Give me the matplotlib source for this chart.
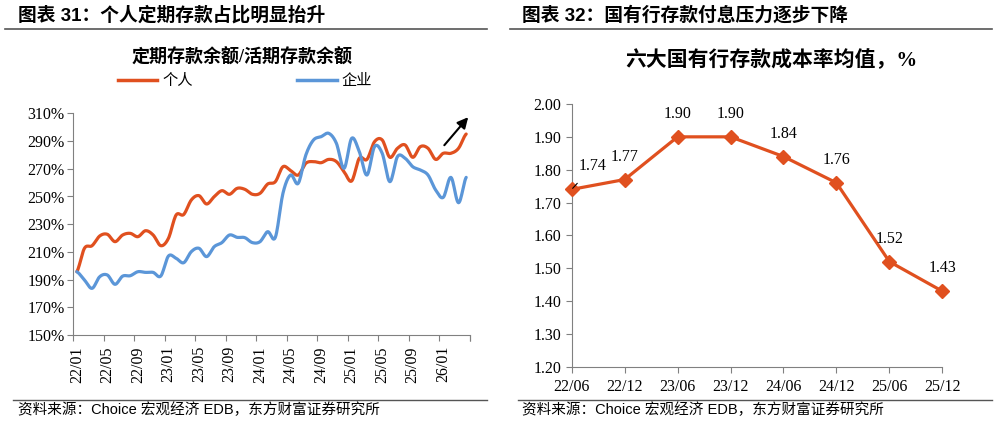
import numpy as np
import matplotlib
matplotlib.use("Agg")
import matplotlib.pyplot as plt
from matplotlib.lines import Line2D

# ---- data: left chart (monthly, 22/01 .. 26/04) ----
years = [22, 23, 24, 25, 26]
months = ["%d/%02d" % (y, m) for y in years for m in range(1, 13)][:52]
personal = [195.7, 212.6, 214.5, 221.5, 222.7, 217.4, 222.2, 223.4, 221.0, 225.3,
            222.2, 214.5, 219.8, 236.6, 237.0, 247.5, 250.6, 244.6, 249.9, 254.2,
            251.6, 255.9, 255.2, 251.6, 252.3, 259.0, 260.7, 271.5, 268.7, 265.5,
            274.0, 275.2, 274.4, 276.8, 275.2, 268.0, 261.2, 277.6, 276.8, 289.6,
            290.8, 278.3, 284.8, 287.2, 278.3, 286.0, 284.8, 276.8, 281.2, 281.2,
            284.8, 295.1]
corporate = [195.7, 189.7, 183.7, 192.1, 193.3, 186.6, 192.5, 192.8, 195.7, 195.2,
             195.2, 192.6, 207.0, 205.4, 202.2, 210.2, 212.6, 206.6, 213.8, 216.7,
             222.2, 220.5, 220.3, 216.7, 217.4, 224.6, 220.5, 252.3, 265.5, 259.5,
             280.0, 290.8, 293.2, 295.6, 288.4, 270.3, 292.0, 282.4, 265.5, 286.0,
             281.2, 260.7, 278.8, 277.6, 271.5, 269.1, 265.5, 254.7, 249.4, 263.8,
             245.5, 263.8]
left_yticks = [150, 170, 190, 210, 230, 250, 270, 290, 310]

# ---- data: right chart ----
periods = ["22/06", "22/12", "23/06", "23/12", "24/06", "24/12", "25/06", "25/12"]
cost_rate = [1.74, 1.77, 1.90, 1.90, 1.84, 1.76, 1.52, 1.43]
right_yticks = [1.20, 1.30, 1.40, 1.50, 1.60, 1.70, 1.80, 1.90, 2.00]

RED = "#E0501F"
BLUE = "#5B96D8"
GRAY = "#808080"
CJK = "Noto Sans CJK SC"
SERIF = ["Liberation Serif", CJK]
SANS = ["Liberation Sans", CJK]


def smooth(y, n=12):
    # Catmull-Rom curve through the points, for drawing only
    y = np.asarray(y, float)
    p = np.concatenate([[y[0]], y, [y[-1]]])
    xs, ys = [], []
    t = np.linspace(0, 1, n, endpoint=False)
    for i in range(len(y) - 1):
        p0, p1, p2, p3 = p[i], p[i + 1], p[i + 2], p[i + 3]
        seg = 0.5 * ((2 * p1) + (-p0 + p2) * t + (2 * p0 - 5 * p1 + 4 * p2 - p3) * t ** 2
                     + (-p0 + 3 * p1 - 3 * p2 + p3) * t ** 3)
        xs.extend(i + t)
        ys.extend(seg)
    xs.append(len(y) - 1)
    ys.append(y[-1])
    return np.array(xs), np.array(ys)


fig = plt.figure(figsize=(9.97, 4.23), dpi=100)

# headers, rules and sources
fig.text(18 / 997, 1 - 15 / 423, "图表 31：个人定期存款占比明显抬升", family=SANS,
         fontweight="bold", fontsize=13.5, va="center", ha="left")
fig.text(522 / 997, 1 - 15 / 423, "图表 32：国有行存款付息压力逐步下降", family=SANS,
         fontweight="bold", fontsize=13.5, va="center", ha="left")
for x0, x1 in [(5, 487), (510, 992)]:
    fig.add_artist(Line2D([x0 / 997, x1 / 997], [1 - 29.5 / 423] * 2, color="#555555", lw=1.2))
    fig.add_artist(Line2D([(x0 + 8) / 997, x1 / 997], [1 - 399.5 / 423] * 2, color="#555555", lw=1.0))
src = "资料来源：Choice 宏观经济 EDB，东方财富证券研究所"
fig.text(18 / 997, 1 - 410 / 423, src, family=SANS, fontsize=10.5, va="center", ha="left")
fig.text(522 / 997, 1 - 410 / 423, src, family=SANS, fontsize=10.5, va="center", ha="left")

# ---- left chart ----
ax1 = fig.add_axes([73 / 997, 1 - 335 / 423, 397 / 997, 221.6 / 423])
xs, ys = smooth(personal)
ax1.plot(xs, ys, color=RED, lw=2.3, solid_capstyle="round")
xs, ys = smooth(corporate)
ax1.plot(xs, ys, color=BLUE, lw=2.3, solid_capstyle="round")
ax1.set_xlim(-0.5, len(months) - 0.5)
ax1.set_ylim(150, 310)
ax1.set_yticks(left_yticks)
ax1.set_yticklabels(["%d%%" % v for v in left_yticks], family=SERIF, fontsize=11.5)
ax1.set_xticks(np.arange(-0.5, len(months), 4).tolist() + [len(months) - 0.5])
ax1.set_xticklabels([])
ax1.set_xticks(range(0, len(months), 4), minor=True)
ax1.set_xticklabels(months[::4], minor=True, rotation=90, family=SERIF, fontsize=11.5)
ax1.tick_params(axis="x", which="minor", length=0, pad=8)
ax1.tick_params(axis="both", which="major", length=4, color=GRAY, direction="out")
ax1.tick_params(axis="y", pad=2)
for s in ["top", "right"]:
    ax1.spines[s].set_visible(False)
for s in ["left", "bottom"]:
    ax1.spines[s].set_color(GRAY)
ax1.annotate("", xy=(51.5, 308.8), xytext=(47.9, 285.5), annotation_clip=False,
             arrowprops=dict(arrowstyle="-|>", color="black", lw=1.5, mutation_scale=16))

fig.text(242 / 997, 1 - 58 / 423, "定期存款余额/活期存款余额", family=SERIF,
         fontweight="bold", fontsize=13, ha="center", va="center")
ly = 1 - 80.5 / 423
fig.add_artist(Line2D([118 / 997, 157 / 997], [ly, ly], color=RED, lw=2.5))
fig.text(162 / 997, ly, "个人", family=CJK, fontsize=11, va="center")
fig.add_artist(Line2D([297 / 997, 337 / 997], [ly, ly], color=BLUE, lw=2.5))
fig.text(341 / 997, ly, "企业", family=CJK, fontsize=11, va="center")

# ---- right chart ----
ax2 = fig.add_axes([571.7 / 997, 1 - 366.7 / 423, 370.6 / 997, 262.7 / 423])
xr = np.arange(len(periods))
ax2.plot(xr, cost_rate, color=RED, lw=2.3, marker="D", markersize=7.5, clip_on=False, zorder=3)
ax2.set_xlim(0, len(periods) - 1)
ax2.set_ylim(1.2, 2.0)
ax2.set_yticks(right_yticks)
ax2.set_yticklabels(["%.2f" % v for v in right_yticks], family=SERIF, fontsize=11.5)
ax2.set_xticks(xr)
ax2.set_xticklabels(periods, family=SERIF, fontsize=11.5)
ax2.tick_params(axis="both", length=4, color=GRAY, direction="out")
ax2.tick_params(axis="x", pad=5)
for s in ["top", "right"]:
    ax2.spines[s].set_visible(False)
for s in ["left", "bottom"]:
    ax2.spines[s].set_color(GRAY)
for i, v in enumerate(cost_rate):
    if i == 0:
        ax2.annotate("%.2f" % v, xy=(i, v), xytext=(0.4, 1.81), family=SERIF, fontsize=11.5,
                     ha="center", va="center",
                     arrowprops=dict(arrowstyle="-", color="black", lw=0.8, shrinkA=6, shrinkB=1))
    else:
        ax2.annotate("%.2f" % v, xy=(i, v), xytext=(0, 16.5), textcoords="offset points",
                     family=SERIF, fontsize=11.5, ha="center", va="center")

fig.text(771 / 997, 1 - 61 / 423, "六大国有行存款成本率均值，%", family=SERIF,
         fontweight="bold", fontsize=15, ha="center", va="center")

fig.savefig("out.png", dpi=100)
